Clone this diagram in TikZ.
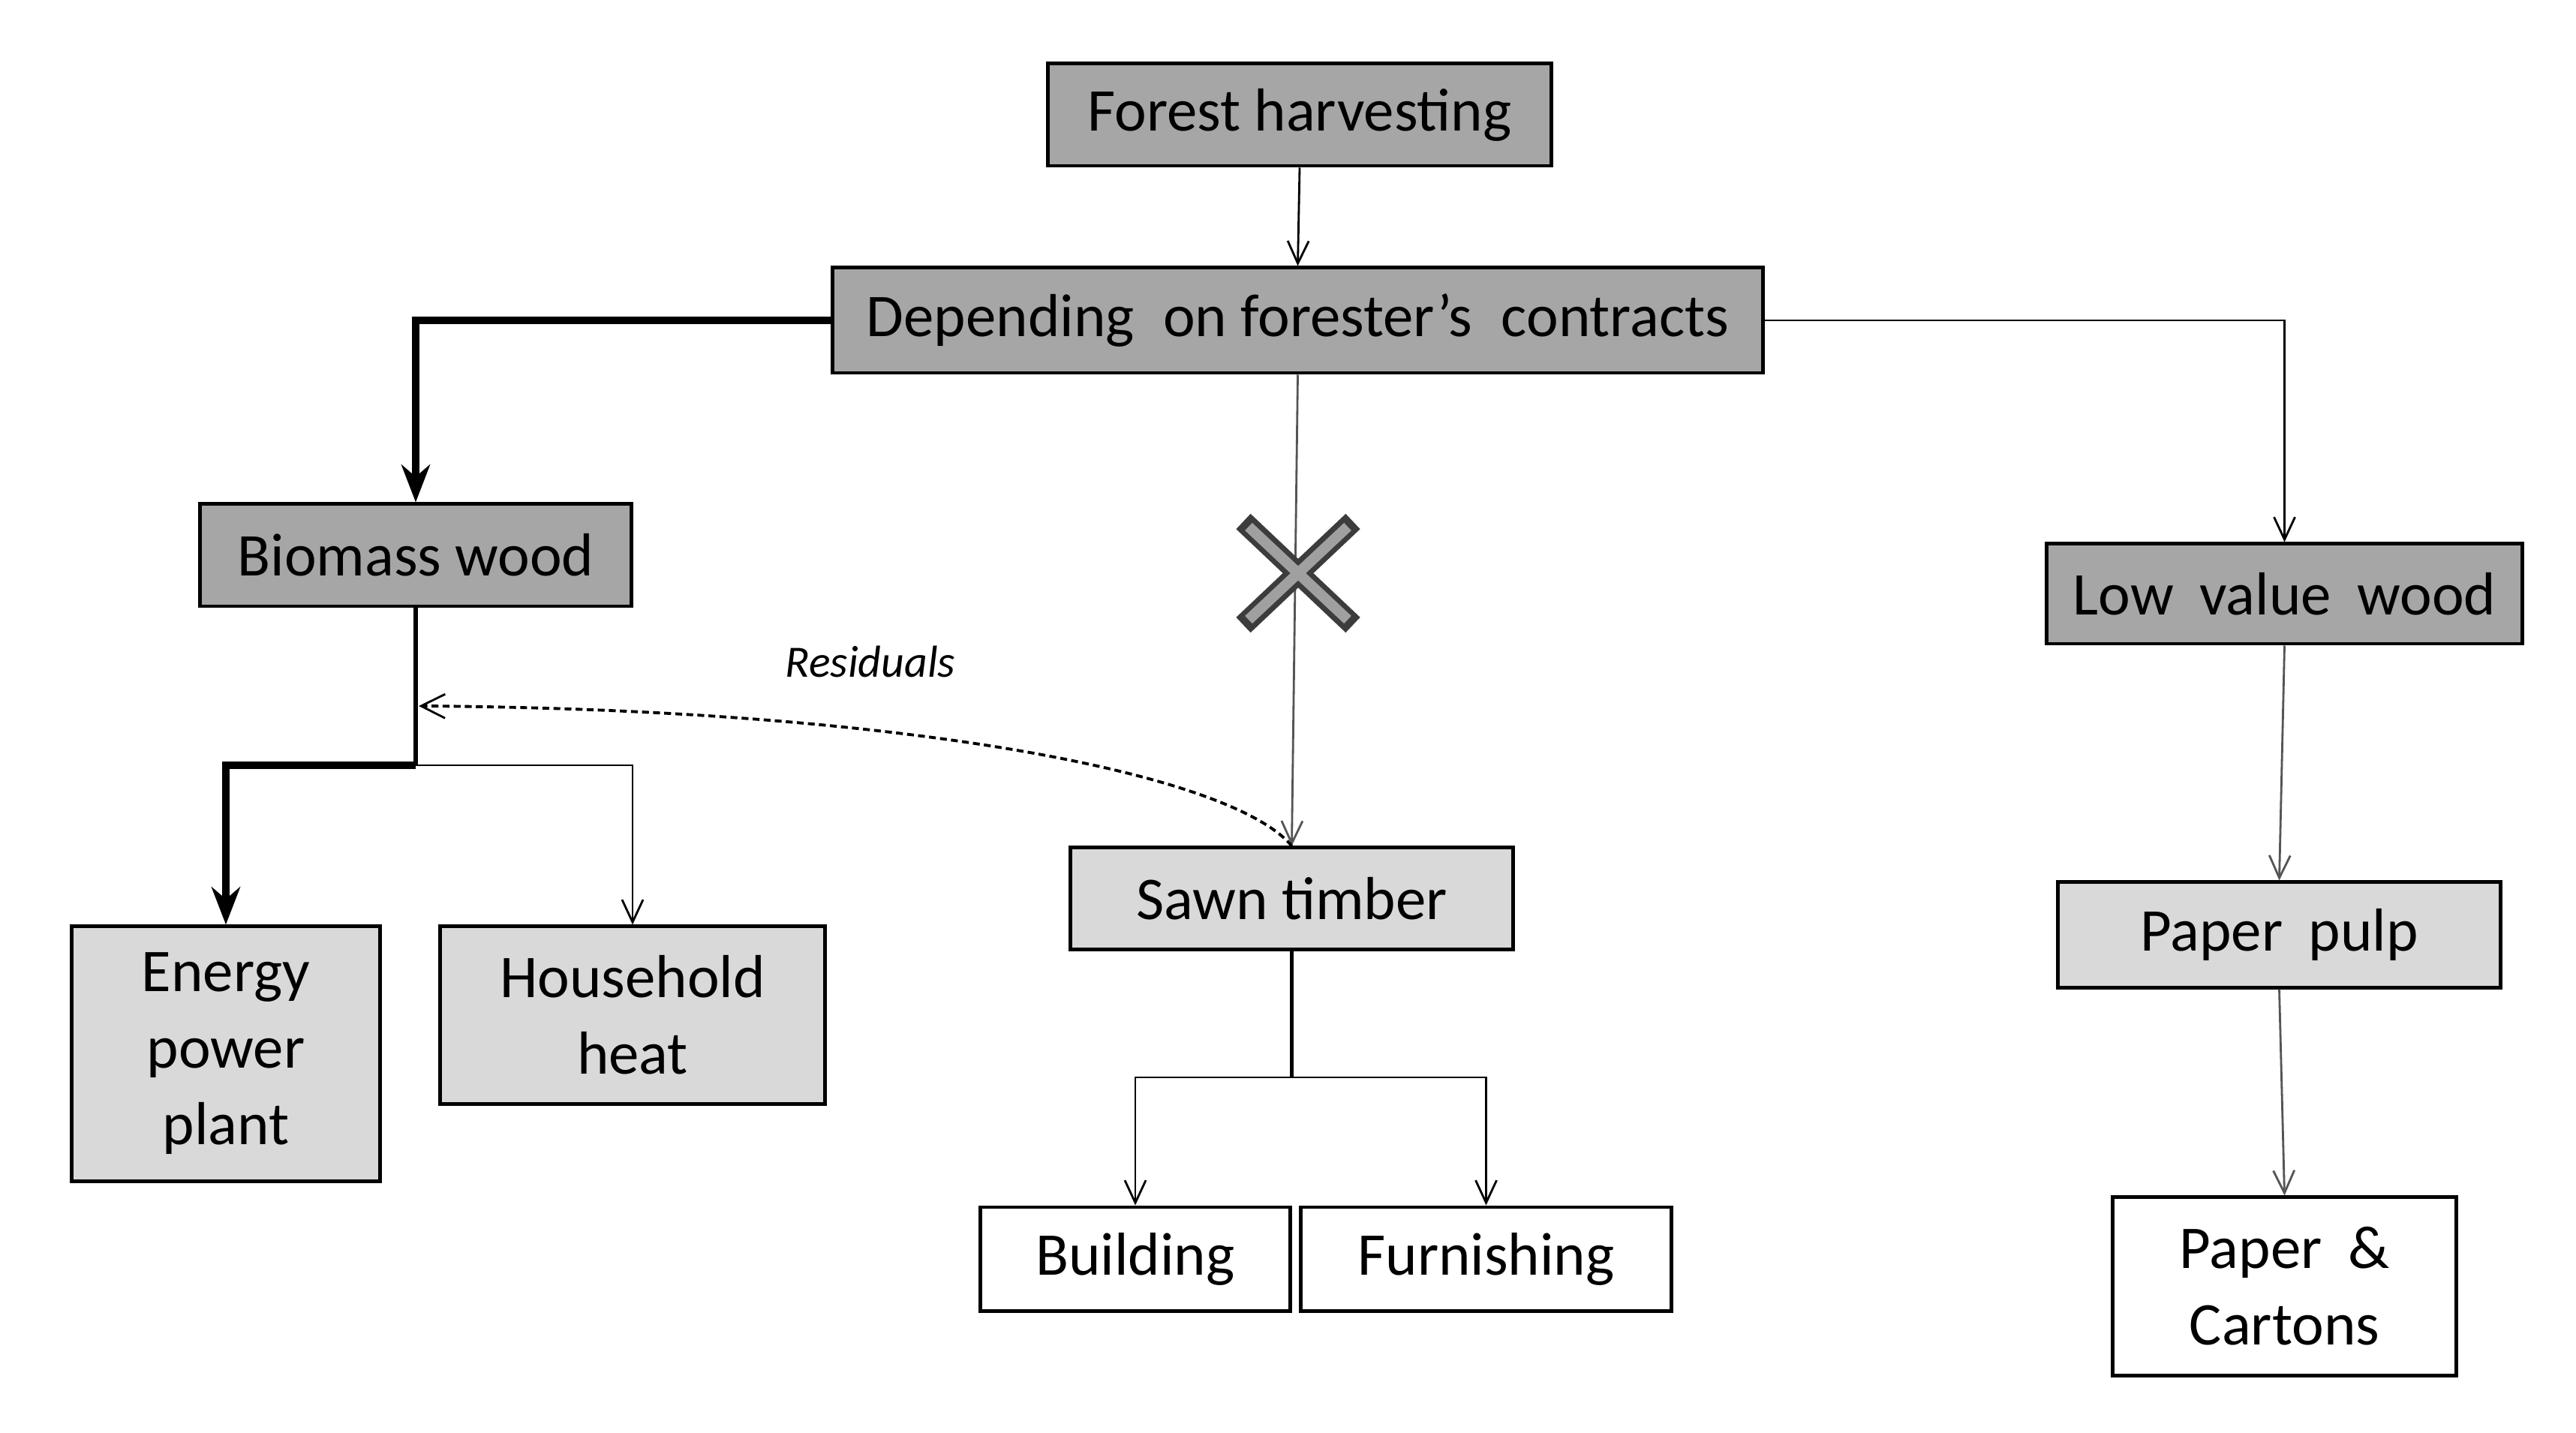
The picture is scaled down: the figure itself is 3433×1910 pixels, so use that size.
\documentclass[tikz,border=0pt]{standalone}
\usepackage{fontspec}
\setmainfont{Carlito}
\usetikzlibrary{arrows.meta}
\definecolor{darkbox}{HTML}{A6A6A6}
\definecolor{lightbox}{HTML}{D9D9D9}
\definecolor{xfill}{HTML}{A0A0A0}
\definecolor{xedge}{HTML}{3C3C3C}
\definecolor{greyline}{HTML}{555555}
\tikzset{
  box/.style={draw=black, line width=1.4pt, inner sep=0pt, align=center,
    font=\fontsize{23}{29}\selectfont},
  darkb/.style={box, fill=darkbox},
  lightb/.style={box, fill=lightbox},
  whiteb/.style={box, fill=white},
  thinline/.style={line width=0.8pt, -{Straight Barb[length=3mm,width=2.8mm,line width=0.8pt]}},
  thickline/.style={line width=2.8pt, -{Stealth[length=5mm,width=3.8mm,inset=1.6mm]}},
  residual/.style={line width=1.1pt, dash pattern=on 2.6pt off 1.6pt,
    -{Straight Barb[length=3.2mm,width=3.2mm,line width=0.8pt]}}
}
\begin{document}
\begin{tikzpicture}[x=0.01cm, y=-0.01cm]
\useasboundingbox (0,0) rectangle (3433,1910);

% nodes
\node[darkb, minimum width=6.70cm, minimum height=1.36cm] (forest) at (1732,153) {Forest harvesting};
\node[darkb, minimum width=12.39cm, minimum height=1.40cm] (dep) at (1729.5,427) {Depending\hspace{0.25em} on forester’s\hspace{0.25em} contracts};
\node[darkb, minimum width=5.74cm, minimum height=1.36cm] (bio) at (554,740) {Biomass wood};
\node[darkb, minimum width=6.33cm, minimum height=1.33cm] (low) at (3044.5,791.5) {Low\hspace{0.2em} value\hspace{0.2em} wood};
\node[lightb, minimum width=5.89cm, minimum height=1.35cm] (sawn) at (1721.5,1197.5) {Sawn timber};
\node[lightb, minimum width=5.89cm, minimum height=1.40cm] (pulp) at (3037.5,1246) {Paper\hspace{0.2em} pulp};
\node[lightb, minimum width=4.10cm, minimum height=3.39cm] (energy) at (301,1404.5) {Energy\\power\\plant};
\node[lightb, minimum width=5.12cm, minimum height=2.36cm] (house) at (843,1353) {Household\\heat};
\node[whiteb, minimum width=4.12cm, minimum height=1.38cm] (build) at (1513,1678) {Building};
\node[whiteb, minimum width=4.93cm, minimum height=1.38cm] (furn) at (1980.5,1678) {Furnishing};
\node[whiteb, minimum width=4.57cm, minimum height=2.37cm] (carton) at (3044.5,1714.5) {Paper\hspace{0.2em} \&\\Cartons};
\node[font=\fontsize{17}{20}\selectfont\itshape] (reslabel) at (1160,882) {Residuals};

% junction coordinates
\coordinate (bj) at (554,1020);
\coordinate (sj) at (1721.5,1436);
\coordinate (resend) at (558,941);
\coordinate (xc) at (1730,764);

% connectors
\draw[thinline] (forest.south) -- (dep.north);
\draw[thickline] (dep.west) -| (bio.north);
\draw[thinline] (dep.east) -| (low.north);
\draw[thinline, draw=greyline] (dep.south) -- (sawn.north);
\draw[line width=1.6pt] (bio.south) -- (bj);
\draw[thickline] (bj) -| (energy.north);
\draw[thinline] (bj) -| (house.north);
\draw[line width=1.2pt] (sawn.south) -- (sj);
\draw[thinline] (sj) -| (build.north);
\draw[thinline] (sj) -| (furn.north);
\draw[thinline, draw=greyline] (low.south) -- (pulp.north);
\draw[thinline, draw=greyline] (pulp.south) -- (carton.north);
\draw[residual] (sawn.north) .. controls (1640,1030) and (1200,945) .. (resend);

% the cross
\draw[xedge, line width=0.28cm] ([shift={(-73,-69)}]xc) -- ([shift={(73,69)}]xc);
\draw[xedge, line width=0.28cm] ([shift={(-73,69)}]xc) -- ([shift={(73,-69)}]xc);
\draw[xfill, line width=0.14cm] ([shift={(-66,-62)}]xc) -- ([shift={(66,62)}]xc);
\draw[xfill, line width=0.14cm] ([shift={(-66,62)}]xc) -- ([shift={(66,-62)}]xc);
\end{tikzpicture}
\end{document}
